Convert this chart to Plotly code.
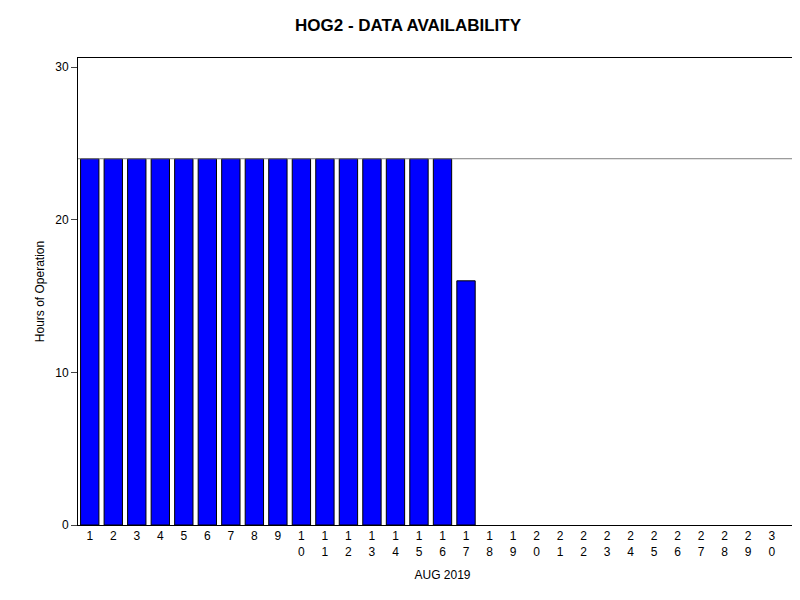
import plotly.graph_objects as go

days = list(range(1, 32))
hours = [24]*16 + [16] + [0]*14
tick_labels = ["<br>".join(str(d)) for d in days]
line_widths = [1 if h > 0 else 0 for h in hours]

fig = go.Figure(go.Bar(x=days, y=hours, width=0.78,
                       marker=dict(color="#0000ff", line=dict(color="black", width=line_widths))))
fig.add_hline(y=24, line=dict(color="#808080", width=1))
fig.update_layout(
    width=800, height=600, plot_bgcolor="white", paper_bgcolor="white",
    margin=dict(l=70, r=1, t=50, b=83, autoexpand=False), showlegend=False,
    font=dict(family="Liberation Sans, Arial", color="black", size=12),
    title=dict(text="<b>HOG2 - DATA AVAILABILITY</b>", x=0.5, y=0.982, xanchor="center",
               font=dict(size=17)),
    xaxis=dict(tickmode="array", tickvals=days, ticktext=tick_labels, range=[0.5, 31.5],
               showline=True, linecolor="black", mirror=True, ticks="", showgrid=False,
               automargin=False,
               title=dict(text="AUG 2019", standoff=12, font=dict(size=12)),
               tickfont=dict(size=12)),
    yaxis=dict(range=[0, 30.6], tickvals=[0, 10, 20, 30], showline=True, linecolor="black",
               mirror=True, ticks="outside", ticklen=6, showgrid=False, zeroline=False,
               automargin=False,
               title=dict(text="Hours of Operation", standoff=8, font=dict(size=12))),
)
fig.write_html("out.html")
